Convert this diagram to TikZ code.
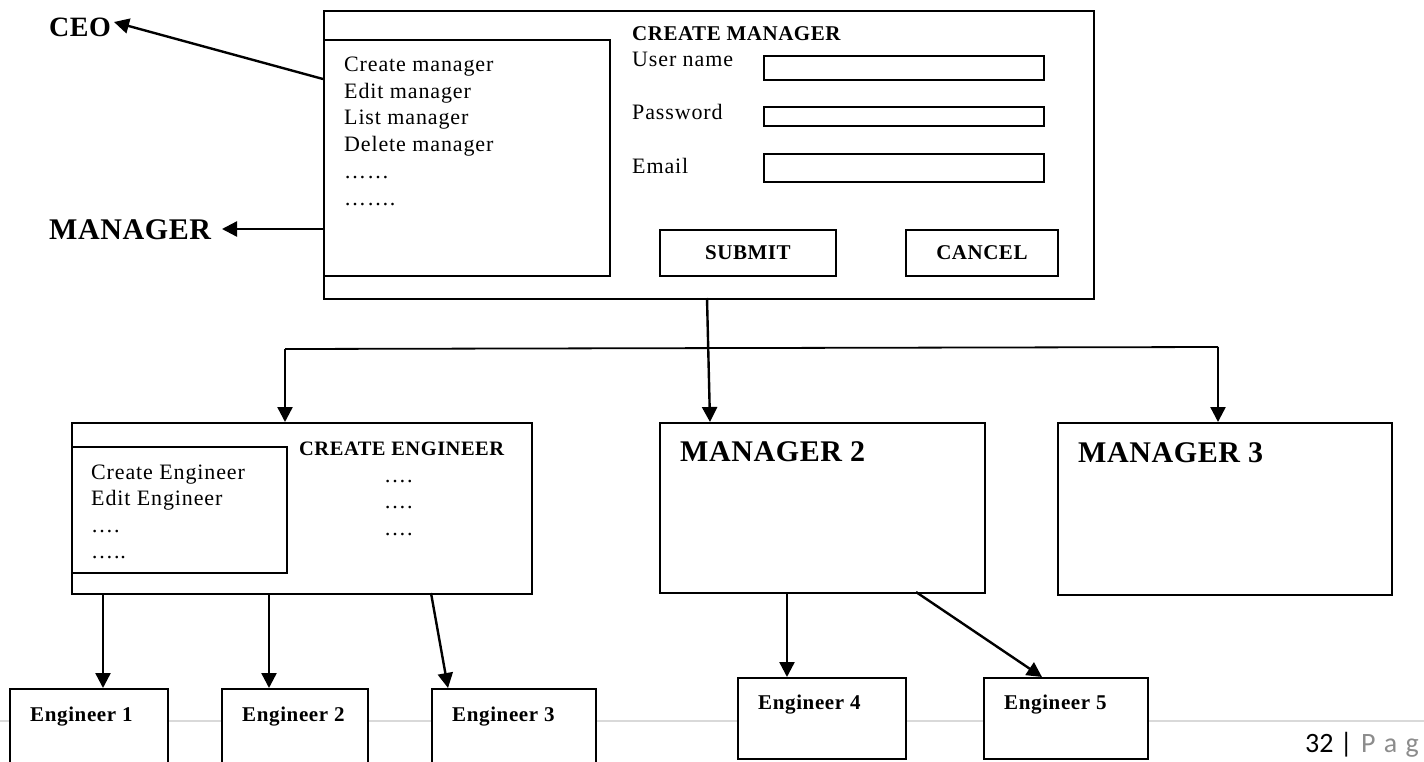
\documentclass[tikz,border=0pt]{standalone}
\usepackage{fontspec}
\setmainfont{Liberation Serif}
\newfontfamily\footfont{Carlito}
\newfontfamily\lblfont[LetterSpace=4]{Liberation Serif}
\newfontfamily\bldfont[LetterSpace=2.5]{Liberation Serif Bold}
\newfontfamily\bigfont[LetterSpace=2]{Liberation Serif Bold}
\newfontfamily\engfont[LetterSpace=3]{Liberation Serif Bold}
\usetikzlibrary{arrows.meta}
\tikzset{
  box/.style={draw=black,line width=1.8pt,fill=white,inner sep=0pt,anchor=north west},
  lbl/.style={inner sep=0pt,anchor=base west,font=\lblfont\fontsize{22}{26}\selectfont},
  blbl/.style={inner sep=0pt,anchor=base west,font=\bldfont\fontsize{21}{24}\selectfont},
  big/.style={inner sep=0pt,anchor=base west,font=\bigfont\fontsize{30}{32}\selectfont},
  eng/.style={inner sep=0pt,anchor=base west,font=\engfont\fontsize{21}{24}\selectfont},
  arr/.style={line width=2.4pt,-{Triangle[length=15pt,width=15pt]}},
  plain/.style={line width=1.8pt}
}
\newcommand{\boxat}[5]{\node[box,minimum width=#4pt,minimum height=#5pt] (#1) at (#2,#3) {};}
\begin{document}
\begin{tikzpicture}[x=1pt,y=-1pt]
\useasboundingbox (0,0) rectangle (1424,761);
\fill[white] (0,0) rectangle (1424,761);
% footer rule
\coordinate (ruleL) at (0,721); \coordinate (ruleR) at (1424,721);
\draw[line width=1.8pt,black!15] (ruleL) -- (ruleR);
\node[inner sep=0pt,anchor=base west,font=\footfont\fontsize{28}{30}\selectfont] (page) at (1305,752) {32 | \textcolor{black!45}{\hspace{2pt}P\hspace{2pt} a\hspace{2pt} g}};
% main window
\boxat{win}{323}{10}{770}{288}
\boxat{menu}{323}{39}{286}{236}
\node[lbl] (m1) at (344,71) {Create manager};
\node[lbl] (m2) at (344,98) {Edit manager};
\node[lbl] (m3) at (344,124) {List manager};
\node[lbl] (m4) at (344,151) {Delete manager};
\node[lbl] (m5) at (344,178) {……};
\node[lbl] (m6) at (344,205) {…….};
\node[blbl] (t1) at (632,40) {CREATE MANAGER};
\node[lbl] (f1) at (632,66) {User name};
\node[lbl] (f2) at (632,119) {Password};
\node[lbl] (f3) at (632,173) {Email};
\boxat{i1}{763}{55}{280}{24}
\boxat{i2}{763}{106}{280}{19}
\boxat{i3}{763}{153}{280}{28}
\boxat{sub}{659}{229}{176}{46}
\boxat{can}{905}{229}{152}{46}
\node[blbl,anchor=center] (subt) at (sub.center) {SUBMIT};
\node[blbl,anchor=center] (cant) at (can.center) {CANCEL};
% roles
\node[big,font=\bigfont\fontsize{28}{32}\selectfont] (ceo) at (49,36) {CEO};
\node[big] (mgr) at (49,239) {MANAGER};
\coordinate (ceoS) at (323,79);
\coordinate (ceoT) at (114,22);
\coordinate (mgrS) at (323,229);
\coordinate (mgrT) at (222,229);
\draw[arr] (ceoS) -- (ceoT);
\draw[arr] (mgrS) -- (mgrT);
% lower windows
\boxat{ce}{71}{422}{460}{171}
\boxat{cem}{71}{446}{215}{126}
\node[lbl] (c1) at (91,479) {Create Engineer};
\node[lbl] (c2) at (91,505) {Edit Engineer};
\node[lbl] (c3) at (91,532) {….};
\node[lbl] (c4) at (91,558) {…..};
\node[blbl,font=\bldfont\fontsize{20.5}{24}\selectfont] (ct) at (299,455) {CREATE ENGINEER};
\node[lbl] (d1) at (384,482) {….};
\node[lbl] (d2) at (384,508) {….};
\node[lbl] (d3) at (384,535) {….};
\boxat{m2b}{659}{422}{325}{170}
\boxat{m3b}{1057}{422}{334}{172}
\node[big] (m2t) at (680,461) {MANAGER 2};
\node[big] (m3t) at (1078,462) {MANAGER 3};
% bus
\coordinate (top) at (707,298);
\coordinate (busL) at (285,349);
\coordinate (busR) at (1218,347);
\coordinate (ceT) at (285,422);
\coordinate (m2T) at (710,422);
\coordinate (m3T) at (1218,422);
\draw[plain] (busL) -- (busR);
\draw[arr] (top) -- (m2T);
\draw[arr] (busL) -- (ceT);
\draw[arr] (busR) -- (m3T);
% engineers
\boxat{e1}{9}{688}{158}{90}
\boxat{e2}{221}{688}{146}{90}
\boxat{e3}{431}{688}{164}{90}
\boxat{e4}{737}{677}{168}{81}
\boxat{e5}{983}{677}{164}{81}
\node[eng] (e1t) at (30,721) {Engineer 1};
\node[eng] (e2t) at (242,721) {Engineer 2};
\node[eng] (e3t) at (452,721) {Engineer 3};
\node[eng] (e4t) at (758,709) {Engineer 4};
\node[eng] (e5t) at (1004,709) {Engineer 5};
\coordinate (a1) at (103,593); \coordinate (a1e) at (103,688);
\coordinate (a2) at (269,593); \coordinate (a2e) at (269,688);
\coordinate (a3) at (431,593); \coordinate (a3e) at (448,688);
\coordinate (a4) at (787,592); \coordinate (a4e) at (787,677);
\coordinate (a5) at (916,592); \coordinate (a5e) at (1042,677);
\draw[arr] (a1) -- (a1e);
\draw[arr] (a2) -- (a2e);
\draw[arr] (a3) -- (a3e);
\draw[arr] (a4) -- (a4e);
\draw[arr] (a5) -- (a5e);
\end{tikzpicture}
\end{document}
